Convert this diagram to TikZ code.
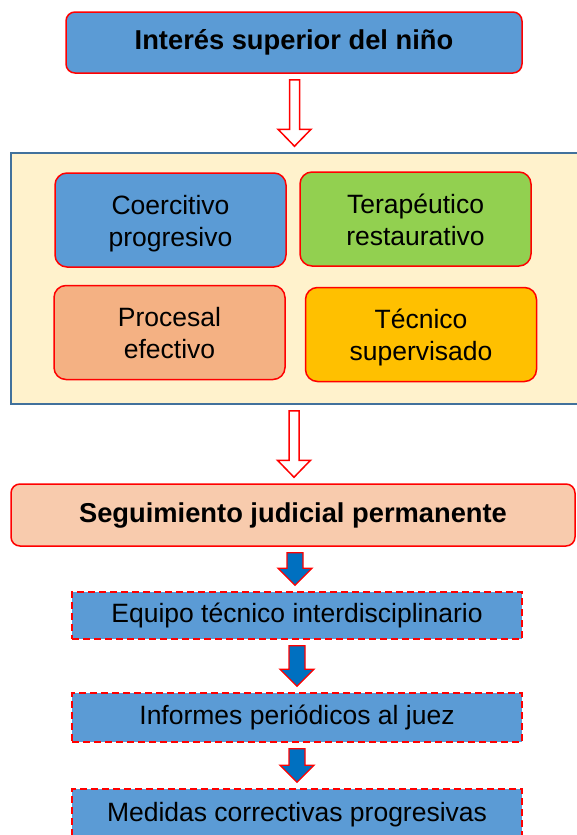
\documentclass[tikz,border=0pt]{standalone}
\usepackage{fontspec}
\setmainfont{Liberation Sans}
\usetikzlibrary{calc}

\definecolor{boxblue}{HTML}{5B9BD5}
\definecolor{boxgreen}{HTML}{92D050}
\definecolor{boxsalmon}{HTML}{F4B183}
\definecolor{boxorange}{HTML}{FFC000}
\definecolor{boxpeach}{HTML}{F8CBAD}
\definecolor{framefill}{HTML}{FFF2CC}
\definecolor{frameline}{HTML}{41719C}
\definecolor{arrowblue}{HTML}{0070C0}

% block arrow from the bottom of one node to the top of the next
\newcommand{\blockarrow}[5]{%
  \draw[#1] let \p1=($(#2.south)!0.5!(#3.north)$), \p2=(#2.south), \p3=(#3.north) in
    (\x1-#4,\y2-6) -- (\x1+#4,\y2-6) -- (\x1+#4,\y3+23) -- (\x1+#5,\y3+23)
    -- (\x1,\y3+6) -- (\x1-#5,\y3+23) -- (\x1-#4,\y3+23) -- cycle;}

\begin{document}
\begin{tikzpicture}[x=1pt, y=-1pt,
                    font=\fontsize{26.5}{32}\selectfont,
                    line width=1.5pt,
                    ]
    \tikzstyle{titlebox}=[rectangle, rounded corners=9pt, draw=red, fill=boxblue, inner sep=0pt, text height=20pt, text depth=6pt, font=\fontsize{27.3}{32}\selectfont\bfseries]
    \tikzstyle{pillar}=[rectangle, rounded corners=12pt, draw=red, minimum width=231pt, minimum height=94pt, inner sep=0pt, align=center, text height=54pt, text depth=2pt]
    \tikzstyle{stage}=[rectangle, draw=red, dash pattern=on 7pt off 4pt, fill=boxblue, minimum width=450pt, inner sep=0pt, text height=20pt, text depth=6pt]
    \tikzstyle{hollow}=[draw=red, fill=white, line width=1.5pt]
    \tikzstyle{solid}=[draw=red, fill=arrowblue, line width=1.3pt]

    \useasboundingbox (0,0) rectangle (576,835);

    \node[titlebox, minimum width=456pt, minimum height=61pt] (interes) at (294,42.5) {Interés superior del niño};

    \node[rectangle, draw=frameline, fill=framefill, minimum width=568pt, minimum height=251pt, inner sep=0pt] (marco) at (295,278.5) {};
    \node[pillar, fill=boxblue] (coercitivo) at (170.5,220) {Coercitivo\\progresivo};
    \node[pillar, fill=boxgreen] (terapeutico) at (415.5,219) {Terapéutico\\restaurativo};
    \node[pillar, fill=boxsalmon] (procesal) at (169.5,332.5) {Procesal\\efectivo};
    \node[pillar, fill=boxorange] (tecnico) at (421,334.5) {Técnico\\supervisado};

    \node[titlebox, fill=boxpeach, minimum width=564pt, minimum height=62pt] (seguimiento) at (293,515) {Seguimiento judicial permanente};

    \node[stage, minimum height=47pt] (equipo) at (297,615.5) {Equipo técnico interdisciplinario};
    \node[stage, minimum height=49pt] (informes) at (297,717.5) {Informes periódicos al juez};
    \node[stage, minimum height=50pt] (medidas) at (297,814) {Medidas correctivas progresivas};

    \blockarrow{hollow}{interes}{marco}{5}{16.5}
    \blockarrow{hollow}{marco}{seguimiento}{5}{16.5}
    \blockarrow{solid}{seguimiento}{equipo}{8}{17}
    \blockarrow{solid}{equipo}{informes}{8}{17}
    \blockarrow{solid}{informes}{medidas}{8}{17}
\end{tikzpicture}
\end{document}
